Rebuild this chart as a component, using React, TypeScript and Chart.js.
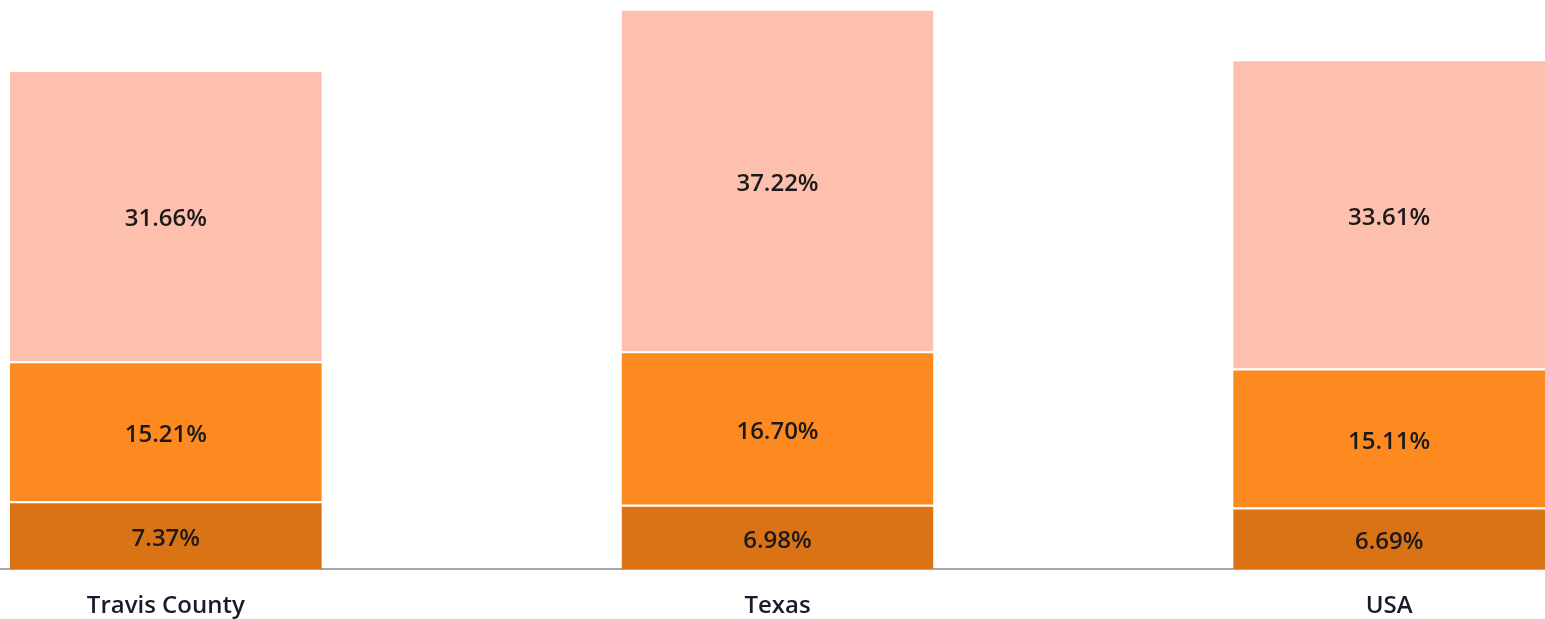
import React, { useEffect, useRef } from "react";
import { Chart, registerables } from "chart.js";

Chart.register(...registerables);

const categories = ["Travis County", "Texas", "USA"];
const bottomValues = [7.37, 6.98, 6.69];
const middleValues = [15.21, 16.7, 15.11];
const topValues = [31.66, 37.22, 33.61];
const seriesNames = ["Series 1", "Series 2", "Series 3"];
const yMax = 61.85;

const labelPlugin = {
  id: "segmentLabels",
  afterDatasetsDraw(chart: any) {
    const ctx = chart.ctx;
    ctx.save();
    ctx.font = "600 24px 'Open Sans'";
    ctx.fillStyle = "#1a1a1a";
    ctx.textAlign = "center";
    ctx.textBaseline = "middle";
    chart.data.datasets.forEach((ds: any, di: number) => {
      const meta = chart.getDatasetMeta(di);
      meta.data.forEach((el: any, i: number) => {
        const v = ds.data[i] as number;
        const yc = (el.y + el.base) / 2 + 4;
        ctx.fillText(v.toFixed(2) + "%", el.x, yc);
      });
    });
    ctx.restore();
  },
};

export default function App() {
  const ref = useRef<HTMLCanvasElement>(null);
  useEffect(() => {
    if (!ref.current) return;
    const chart = new Chart(ref.current, {
      type: "bar",
      data: {
        labels: categories,
        datasets: [
          { label: seriesNames[0], data: bottomValues, backgroundColor: "#DA7316" },
          { label: seriesNames[1], data: middleValues, backgroundColor: "#FC8A20" },
          { label: seriesNames[2], data: topValues, backgroundColor: "#FEC0AE" },
        ].map((d) => ({
          ...d,
          borderColor: "#ffffff",
          borderWidth: { top: 2, left: 0, right: 0, bottom: 0 },
          borderSkipped: false,
          categoryPercentage: 1,
          barPercentage: 0.51,
        })),
      },
      options: {
        animation: false,
        responsive: false,
        maintainAspectRatio: false,
        layout: { padding: 0 },
        plugins: { legend: { display: false }, tooltip: { enabled: false } },
        scales: {
          x: {
            stacked: true,
            grid: { display: false },
            border: { display: true, color: "#a6a6a6", width: 2 },
            ticks: {
              color: "#1a1a2a",
              padding: 15,
              font: { family: "'Open Sans'", size: 24, weight: 600 },
            },
            afterFit: (scale: any) => {
              scale.height = 50;
            },
          },
          y: { stacked: true, display: false, min: 0, max: yMax },
        },
      },
      plugins: [labelPlugin],
    });
    return () => chart.destroy();
  }, []);
  return (
    <div
      style={{
        position: "fixed",
        left: 0,
        top: 0,
        width: 1545,
        height: 619,
        overflow: "hidden",
        background: "#ffffff",
      }}
    >
      <canvas
        ref={ref}
        width={1835}
        height={619}
        style={{ position: "absolute", left: -140, top: 0, width: 1835, height: 619 }}
      />
    </div>
  );
}
